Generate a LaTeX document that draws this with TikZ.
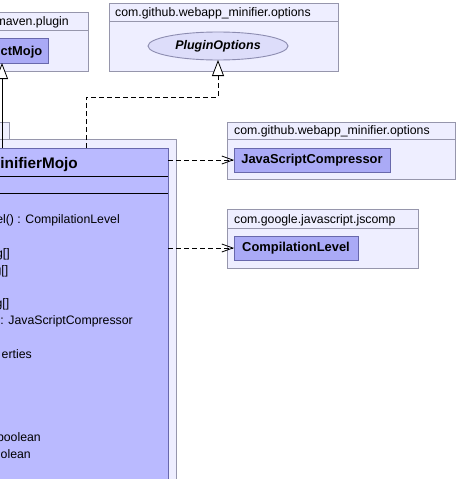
\documentclass[tikz,border=0pt]{standalone}
\usepackage{fontspec}
\setmainfont{Liberation Sans}
\usetikzlibrary{arrows.meta,shapes.geometric}

\definecolor{pkgfill}{RGB}{238,238,255}
\definecolor{pkgdraw}{RGB}{150,150,172}
\definecolor{clsfill}{RGB}{170,170,246}
\definecolor{mainfill}{RGB}{186,186,255}
\definecolor{clsdraw}{RGB}{104,104,172}
\definecolor{ellfill}{RGB}{221,221,250}
\definecolor{elldraw}{RGB}{140,140,176}

\tikzset{
  box/.style={rectangle, inner sep=0pt, outer sep=0pt, line width=0.9pt},
  pkgbox/.style={box, draw=pkgdraw, fill=pkgfill},
  clsbox/.style={box, draw=clsdraw, fill=clsfill},
  pkgtext/.style={inner sep=0pt, font=\fontsize{12.3}{14}\selectfont},
  boldname/.style={font=\fontsize{12.9}{15}\selectfont\bfseries},
  membertext/.style={inner sep=0pt, anchor=base east, font=\fontsize{12.3}{14}\selectfont},
  dep/.style={line width=0.8pt, dash pattern=on 5pt off 3pt,
    -{Straight Barb[length=11pt, width=8pt, line width=0.8pt]}},
  realize/.style={line width=0.8pt, dash pattern=on 5pt off 3pt,
    -{Triangle[open, fill=white, length=16pt, width=12pt, line width=0.8pt]}},
  inherit/.style={line width=0.8pt,
    -{Triangle[open, fill=white, length=16pt, width=12pt, line width=0.8pt]}},
}

\begin{document}
\begin{tikzpicture}[x=1pt, y=-1pt]
\useasboundingbox (0,0) rectangle (458,479);
\clip (0,0) rectangle (458,479);

% ---------- packages ----------
% org.apache.maven.plugin
\node[pkgbox, minimum width=220pt, minimum height=59pt, anchor=north east] (pkgMaven) at (88,12) {};
\draw[pkgdraw, line width=0.9pt] (pkgMaven.north west) ++(0,18) -- ++(220,0);
\node[pkgtext, anchor=base east] (lblMaven) at (69,25.5) {maven.plugin};

% options package holding PluginOptions
\node[pkgbox, minimum width=229pt, minimum height=68pt, anchor=north west] (pkgOpt) at (109,3) {};
\draw[pkgdraw, line width=0.9pt] (pkgOpt.north west) ++(0,18) -- ++(229,0);
\node[pkgtext, anchor=base west] (lblOpt) at (115,16.5) {com.github.webapp\_minifier.options};

% options package holding JavaScriptCompressor
\node[pkgbox, minimum width=228pt, minimum height=57pt, anchor=north west] (pkgJs) at (227,122) {};
\draw[pkgdraw, line width=0.9pt] (pkgJs.north west) ++(0,17) -- ++(228,0);
\node[pkgtext, anchor=base west] (lblJs) at (234,134.5) {com.github.webapp\_minifier.options};

% com.google.javascript.jscomp
\node[pkgbox, minimum width=191pt, minimum height=59pt, anchor=north west] (pkgCl) at (227,209) {};
\draw[pkgdraw, line width=0.9pt] (pkgCl.north west) ++(0,19) -- ++(191,0);
\node[pkgtext, anchor=base west] (lblCl) at (234,223) {com.google.javascript.jscomp};

% package of the mojo (tab and body)
\node[pkgbox, minimum width=80pt, minimum height=20pt, anchor=north east] (pkgMainTab) at (9,122) {};
\node[pkgbox, minimum width=400pt, minimum height=400pt, anchor=north east] (pkgMain) at (176,139) {};

% ---------- classes ----------
\node[clsbox, minimum width=120pt, minimum height=25pt, anchor=north east] (abs) at (48,38.5) {};
\node[boldname, inner sep=0pt, anchor=base east] (absName) at (42.5,55.5) {ctMojo};

\node[ellipse, draw=elldraw, fill=ellfill, line width=0.9pt, minimum width=140pt,
  minimum height=28pt, inner sep=0pt, outer sep=0pt,
  font=\fontsize{12.5}{14}\selectfont\bfseries\itshape] (plugin) at (218,46) {PluginOptions};

\node[clsbox, boldname, minimum width=156pt, minimum height=24pt, anchor=north west]
  (js) at (234,148) {JavaScriptCompressor};

\node[clsbox, boldname, minimum width=124pt, minimum height=24pt, anchor=north west]
  (cl) at (234,236) {CompilationLevel};

% the mojo class with its compartments
\node[box, draw=clsdraw, fill=mainfill, minimum width=400pt, minimum height=400pt,
  anchor=north east] (main) at (168,148) {};
\draw[black, line width=0.9pt] (main.north west) ++(0,28) -- ++(400,0);
\draw[black, line width=0.9pt] (main.north west) ++(0,45) -- ++(400,0);
\node[inner sep=0pt, anchor=base east, font=\fontsize{15.3}{18}\selectfont\bfseries]
  (mainName) at (78,168) {inifierMojo};

\node[membertext] (m1) at (120,223.5) {el() : CompilationLevel};
\node[membertext] (m2) at (10,257.5) {g[]};
\node[membertext] (m3) at (8.5,274.5) {g[]};
\node[membertext] (m4) at (9.5,307.5) {g[]};
\node[membertext] (m5) at (133,324.5) {: JavaScriptCompressor};
\node[membertext] (m6) at (32,358) {erties};
\node[membertext] (m7) at (41,441) {boolean};
\node[membertext] (m8) at (31,458) {olean};

% ---------- relations ----------
\coordinate (genTip) at (2,63);
\draw[inherit] (genTip |- main.north) -- (genTip);

\coordinate (realStart) at (86,148);
\coordinate (realBend) at (86,97);
\draw[realize] (realStart) -- (realBend) -| (plugin.south);

\draw[dep] (main.east |- js.west) -- (js.west);
\draw[dep] (main.east |- cl.west) -- (cl.west);
\end{tikzpicture}
\end{document}
